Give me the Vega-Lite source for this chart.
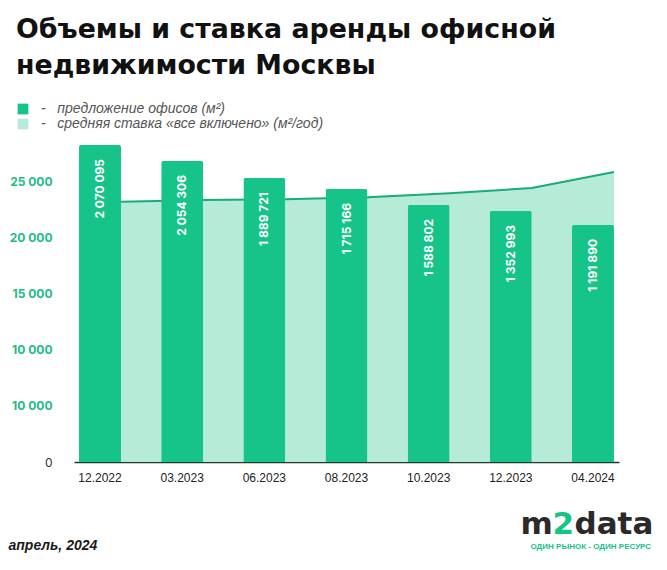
{
  "$schema": "https://vega.github.io/schema/vega-lite/v6.json",
  "width": 545,
  "height": 322,
  "autosize": {"type": "none"},
  "padding": {"left": 74, "top": 140, "right": 48, "bottom": 108},
  "background": "white",
  "title": {
    "text": ["Объемы и ставка аренды офисной", "недвижимости Москвы"],
    "anchor": "start",
    "frame": "group",
    "dx": -58,
    "offset": 22,
    "font": "DejaVu Sans",
    "fontSize": 26.8,
    "fontWeight": "bold",
    "color": "#111111",
    "lineHeight": 36
  },
  "data": {
    "values": [
      {"period": "12.2022", "offices": 2070095, "bar_level": 28200, "rate": 23160},
      {"period": "03.2023", "offices": 2054306, "bar_level": 26780, "rate": 23310},
      {"period": "06.2023", "offices": 1889721, "bar_level": 25270, "rate": 23370},
      {"period": "08.2023", "offices": 1715166, "bar_level": 24290, "rate": 23550},
      {"period": "10.2023", "offices": 1588802, "bar_level": 22870, "rate": 23910},
      {"period": "12.2023", "offices": 1352993, "bar_level": 22330, "rate": 24380},
      {"period": "04.2024", "offices": 1191890, "bar_level": 21090, "rate": 25800}
    ]
  },
  "layer": [
    {
      "mark": {"type": "area", "interpolate": "linear"},
      "encoding": {
        "x": {
          "field": "period", "type": "nominal", "sort": null, "bandPosition": 1,
          "scale": {
            "domain": ["12.2022", "03.2023", "06.2023", "08.2023", "10.2023", "12.2023", "04.2024"],
            "paddingInner": 0.489, "paddingOuter": 0.061
          },
          "axis": {
            "orient": "top", "labels": false, "ticks": false, "domain": false, "grid": false,
            "title": "data",
            "titleX": 500, "titleY": 393, "titleAlign": "left", "titleBaseline": "alphabetic", "titleAngle": 0,
            "titleFont": "DejaVu Sans", "titleFontSize": 31, "titleFontWeight": "bold", "titleColor": "#2a2a2a"
          }
        },
        "y": {
          "field": "rate", "type": "quantitative",
          "scale": {"domain": [0, 28650], "nice": false, "zero": true},
          "axis": {
            "orient": "right", "labels": false, "ticks": false, "domain": false, "grid": false,
            "title": "m",
            "titleX": -99, "titleY": 393, "titleAlign": "left", "titleBaseline": "alphabetic", "titleAngle": 0,
            "titleFont": "DejaVu Sans", "titleFontSize": 31, "titleFontWeight": "bold", "titleColor": "#2a2a2a"
          }
        },
        "color": {
          "datum": "средняя ставка «все включено» (м²/год)",
          "type": "nominal",
          "scale": {
            "domain": ["предложение офисов (м²)", "средняя ставка «все включено» (м²/год)"],
            "range": ["#16c489", "#b6ebd8"]
          },
          "legend": {
            "orient": "none", "legendX": -58, "legendY": -38, "title": null,
            "direction": "vertical", "padding": 0,
            "symbolType": "square", "symbolSize": 115, "symbolStrokeWidth": 0,
            "labelFont": "Liberation Sans", "labelFontStyle": "italic", "labelFontSize": 14,
            "labelColor": "#555555", "labelOffset": 11, "rowPadding": 1, "labelLimit": 450,
            "labelExpr": "'-\u00a0\u00a0\u00a0' + datum.label"
          }
        }
      }
    },
    {
      "mark": {"type": "line", "color": "#17ad7a", "strokeWidth": 2},
      "encoding": {
        "x": {
          "field": "period", "type": "nominal", "sort": null, "bandPosition": 1,
          "axis": {
            "orient": "top", "labels": false, "ticks": false, "domain": false, "grid": false,
            "title": "ОДИН РЫНОК - ОДИН РЕСУРС",
            "titleX": 456, "titleY": 406, "titleAlign": "left", "titleBaseline": "middle", "titleAngle": 0,
            "titleFont": "Liberation Sans", "titleFontSize": 8, "titleFontWeight": "bold", "titleColor": "#16c189"
          }
        },
        "y": {"field": "rate", "type": "quantitative", "axis": null}
      }
    },
    {
      "mark": {"type": "bar", "cornerRadiusTopLeft": 2, "cornerRadiusTopRight": 2},
      "encoding": {
        "x": {
          "field": "period", "type": "nominal", "sort": null,
          "axis": {
            "orient": "bottom", "labelAngle": 0, "ticks": false, "grid": false,
            "domainColor": "#1e3833", "domainWidth": 1.5,
            "labelFont": "Liberation Sans", "labelFontSize": 12, "labelColor": "#222222", "labelPadding": 10,
            "title": "апрель, 2024",
            "titleX": -66, "titleY": 83, "titleAlign": "left", "titleBaseline": "middle", "titleAngle": 0,
            "titleFont": "Liberation Sans", "titleFontSize": 14, "titleFontWeight": "bold", "titleFontStyle": "italic",
            "titleColor": "#1a1a1a"
          }
        },
        "y": {
          "field": "bar_level", "type": "quantitative",
          "axis": {
            "orient": "left", "values": [0, 5000, 10000, 15000, 20000, 25000],
            "format": ",d",
            "labelExpr": "datum.value === 5000 ? '10 000' : datum.label",
            "grid": false, "ticks": false, "domain": false, "labelPadding": 22,
            "labelFont": "Inter", "labelFontSize": 12,
            "labelFontWeight": {"condition": {"test": "datum.value === 0", "value": "normal"}, "value": "bold"},
            "labelColor": {"condition": {"test": "datum.value === 0", "value": "#333333"}, "value": "#22bb85"},
            "title": "2",
            "titleX": 478, "titleY": 393, "titleAlign": "left", "titleBaseline": "alphabetic", "titleAngle": 0,
            "titleFont": "DejaVu Sans", "titleFontSize": 31, "titleFontWeight": "bold", "titleColor": "#16c489"
          }
        },
        "color": {"datum": "предложение офисов (м²)", "type": "nominal"}
      }
    },
    {
      "mark": {"type": "text", "angle": 270, "align": "right", "baseline": "middle", "dx": -14,
               "color": "white", "font": "Inter", "fontSize": 12, "fontWeight": "bold"},
      "encoding": {
        "x": {"field": "period", "type": "nominal", "sort": null, "axis": null},
        "y": {"field": "bar_level", "type": "quantitative", "axis": null},
        "text": {"field": "offices", "type": "quantitative", "format": ",d"}
      }
    }
  ],
  "resolve": {"axis": {"x": "independent", "y": "independent"}},
  "config": {
    "view": {"stroke": null},
    "locale": {"number": {"decimal": ",", "thousands": " ", "grouping": [3], "currency": ["", ""]}}
  }
}
